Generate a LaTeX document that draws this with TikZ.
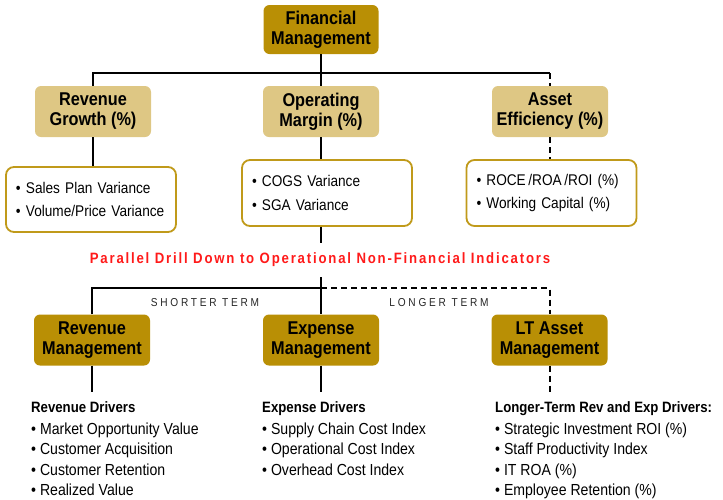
\documentclass[tikz,border=0pt]{standalone}
\usepackage{fontspec}
\setmainfont{Liberation Sans}[FakeStretch=0.88]
\newfontfamily\trackfont{Liberation Sans}[FakeStretch=0.88,LetterSpace=12]
\newfontfamily\termfont{Liberation Sans}[FakeStretch=0.88,LetterSpace=24]
\definecolor{mgmtgold}{HTML}{B98F05}
\definecolor{kpitan}{HTML}{DEC784}
\definecolor{listgold}{HTML}{C09A1A}
\definecolor{drillred}{HTML}{FF1A1A}
\tikzset{
  mgmt/.style={fill=mgmtgold, rounded corners=6pt, minimum width=116pt, minimum height=51pt,
    align=center, inner sep=2pt, font=\bfseries\fontsize{18.5}{20}\selectfont},
  kpi/.style={mgmt, fill=kpitan},
  varlist/.style={draw=listgold, line width=1.8pt, fill=white, rounded corners=8pt, align=left,
    text width=150pt, inner xsep=10pt, minimum height=66pt, font=\fontsize{15.5}{23.5}\selectfont},
  drivers/.style={anchor=north west, inner xsep=0pt, inner ysep=9pt, align=left,
    font=\fontsize{16}{20.5}\selectfont},
  term/.style={font=\termfont\fontsize{11.5}{14}\selectfont, text=black!85},
  link/.style={line width=2pt},
  future/.style={link, dash pattern=on 6pt off 4pt},
}
\begin{document}
\begin{tikzpicture}[x=1pt,y=-1pt]
\useasboundingbox (0,0) rectangle (723,499);
\node[mgmt, minimum width=115pt, minimum height=49pt] (fm) at (321,29.5) {Financial\\Management};
\node[kpi] (rg) at (93,111.5) {Revenue\\Growth (\%)};
\node[kpi] (om) at (321,111.5) {Operating\\Margin (\%)};
\node[kpi] (ae) at (550,111.5) {Asset\\Efficiency (\%)};
\node[varlist, minimum height=65pt] (sv) at (91,199.5) {\textbullet\ Sales Plan Variance\\\textbullet\ Volume/Price Variance};
\node[varlist] (cv) at (327,193) {\textbullet\ COGS Variance\\\textbullet\ SGA Variance};
\node[varlist] (rv) at (551.5,193) {\textbullet\ ROCE\,/ROA\,/ROI (\%)\\\textbullet\ Working Capital (\%)};
\node[font=\trackfont\bfseries\fontsize{15}{18}\selectfont, text=drillred, inner ysep=10pt] (pd) at (320,260)
  {Parallel Drill Down to Operational Non-Financial Indicators};
\node[term] (st) at (205,303) {SHORTER TERM};
\node[term] (lg) at (439,303) {LONGER TERM};
\node[mgmt] (rm) at (92,340) {Revenue\\Management};
\node[mgmt] (em) at (321,340) {Expense\\Management};
\node[mgmt] (la) at (549.5,340) {LT Asset\\Management};
\node[drivers] (rd) at (31,392) {{\bfseries\fontsize{15}{20.5}\selectfont Revenue Drivers}\\[1.5pt]
  \textbullet\ Market Opportunity Value\\\textbullet\ Customer Acquisition\\
  \textbullet\ Customer Retention\\\textbullet\ Realized Value};
\node[drivers] (ed) at (262,392) {{\bfseries\fontsize{15}{20.5}\selectfont Expense Drivers}\\[1.5pt]
  \textbullet\ Supply Chain Cost Index\\\textbullet\ Operational Cost Index\\
  \textbullet\ Overhead Cost Index};
\node[drivers] (ld) at (495,392) {{\bfseries\fontsize{15}{20.5}\selectfont Longer-Term Rev and Exp Drivers:}\\[1.5pt]
  \textbullet\ Strategic Investment ROI (\%)\\\textbullet\ Staff Productivity Index\\
  \textbullet\ IT ROA (\%)\\\textbullet\ Employee Retention (\%)};
\coordinate (kt) at (550,73);
\coordinate (dt) at (321,288);
\draw[link] (fm) -- (om);
\draw[link] (rg.north) |- (kt);
\draw[future] (kt) -- (ae.north);
\draw[link] (rg.south) -- (rg.south |- sv.north);
\draw[link] (om.south) -- (om.south |- cv.north);
\draw[future] (ae.south) -- (ae.south |- rv.north);
\draw[link] (cv.south -| om.south) -- (pd.north -| om.south);
\draw[link] (pd.south -| em.north) -- (em.north);
\draw[link] (rm.north) |- (dt);
\draw[future] (dt) -| (la.north);
\draw[link] (rm.south) -- (rm.south |- rd.north);
\draw[link] (em.south) -- (em.south |- ed.north);
\draw[future] (la.south) -- (la.south |- ld.north);
\end{tikzpicture}
\end{document}
